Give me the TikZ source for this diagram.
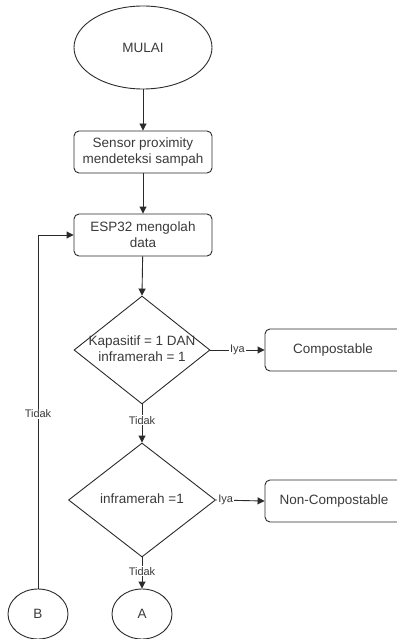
\documentclass[tikz,border=0pt]{standalone}
\usepackage{fontspec}
\setmainfont{Liberation Sans}
\usetikzlibrary{shapes.geometric,arrows.meta}
\definecolor{txt}{HTML}{3A3A3A}
\definecolor{ln}{HTML}{2A2A2A}
\begin{document}
\begin{tikzpicture}[x=1pt,y=-1pt,
  every node/.style={font=\fontsize{13.5}{16}\selectfont, text=txt, align=center, inner sep=0pt},
  procbox/.style={draw=ln, line width=0.9pt, rounded corners=5pt, minimum width=138pt, minimum height=42pt},
  termin/.style={draw=ln, line width=0.9pt, ellipse, minimum width=138pt, minimum height=83pt},
  decis/.style={draw=ln, line width=0.9pt, diamond},
  conn/.style={draw=ln, line width=0.9pt, ellipse, minimum width=60pt, minimum height=50pt},
  flow/.style={draw=ln, line width=0.9pt, -{Triangle[length=7pt,width=7pt]}},
  elab/.style={fill=white, inner sep=1pt, font=\fontsize{11}{13}\selectfont}
]
\useasboundingbox (0,0) rectangle (396,639);
\node[termin] (mulai) at (143,47.5) {MULAI};
\node[procbox] (sensor) at (143,152) {Sensor proximity\\mendeteksi sampah};
\node[procbox] (esp) at (143,235) {ESP32 mengolah\\data};
\node[decis, minimum width=136pt, minimum height=108pt] (d1) at (142,350) {};
\node (d1t) at (142,349) {Kapasitif = 1 DAN\\inframerah = 1};
\node[procbox, minimum width=142pt] (comp) at (336,350) {\hspace*{-6pt}Compostable};
\node[decis, minimum width=147pt, minimum height=114pt] (d2) at (142,500) {};
\node (d2t) at (142,499) {inframerah =1};
\node[procbox, minimum width=142pt] (noncomp) at (336,501) {\hspace*{-4pt}Non-Compostable};
\node[conn] (A) at (142,614) {A};
\node[conn] (B) at (38,614) {B};

\draw[flow] (mulai) -- (sensor);
\draw[flow] (sensor) -- (esp);
\draw[flow] (esp) -- (d1.north);
\draw[flow] (d1.east) -- (comp.west) node[elab, pos=0.5] {Iya};
\draw[flow] (d2.east) -- (noncomp.west) node[elab, pos=0.2] {Iya};
\draw[flow] (d1.south) -- (d2.north) node[elab, pos=0.42] {Tidak};
\draw[flow] (d2.south) -- (A.north) node[elab, pos=0.45] {Tidak};
\draw[flow] (B.north) |- (esp.west) node[elab, pos=0.247] {Tidak};
\end{tikzpicture}
\end{document}
